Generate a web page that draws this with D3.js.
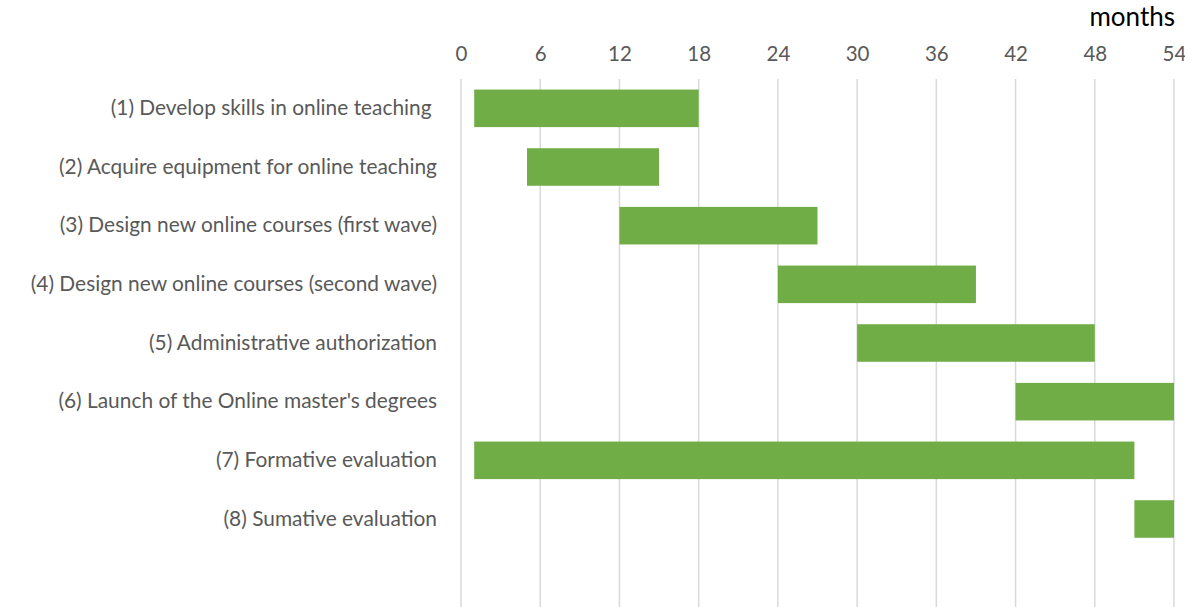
<!DOCTYPE html>
<html><head><meta charset="utf-8">
<script src="https://cdn.jsdelivr.net/npm/d3@7"></script>
<style>body{margin:0;background:#fff}</style>
</head><body>
<svg id="c" width="1185" height="607"></svg>
<script>
const tasks = ["(1) Develop skills in online teaching ", "(2) Acquire equipment for online teaching", "(3) Design new online courses (first wave)", "(4) Design new online courses (second wave)", "(5) Administrative authorization", "(6) Launch of the Online master's degrees", "(7) Formative evaluation", "(8) Sumative evaluation"];
const starts = [1, 5, 12, 24, 30, 42, 1, 51];
const ends = [18, 15, 27, 39, 48, 54, 51, 54];
const tickValues = [0, 6, 12, 18, 24, 30, 36, 42, 48, 54];
const axisTitle = "months";

const svg = d3.select("#c");
const font = "Lato, 'Open Sans', sans-serif";
const x = d3.scaleLinear().domain([0, 54]).range([461, 1174]);
const y = d3.scaleBand().domain(tasks.concat([""])).range([79, 607]).paddingInner(0.36).paddingOuter(0.18);

// gridlines
svg.append("g").selectAll("line").data(tickValues).join("line")
  .attr("x1", d => x(d)).attr("x2", d => x(d)).attr("y1", 79).attr("y2", 607)
  .attr("stroke", "#d9d9d9").attr("stroke-width", 1.5);

// bars
svg.append("g").selectAll("rect").data(tasks).join("rect")
  .attr("x", (d, i) => x(starts[i])).attr("width", (d, i) => x(ends[i]) - x(starts[i]))
  .attr("y", d => y(d)).attr("height", y.bandwidth())
  .attr("fill", "#70ad47");

// top axis
const ax = svg.append("g").attr("transform", "translate(0,67)")
  .call(d3.axisTop(x).tickValues(tickValues).tickSize(0).tickPadding(0));
ax.select(".domain").remove();
ax.selectAll("text").attr("font-family", font).attr("font-size", 20.5).attr("fill", "#595959").attr("dy", "-0.3em");

// labels
const ay = svg.append("g").attr("transform", "translate(437,0)")
  .call(d3.axisLeft(y).tickSize(0).tickPadding(0));
ay.select(".domain").remove();
ay.selectAll("text").attr("font-family", font).attr("font-size", 20.9).attr("fill", "#595959").style("white-space", "pre");

svg.append("text").attr("x", 1175).attr("y", 26).attr("text-anchor", "end")
  .attr("font-family", font).attr("font-size", 26).attr("fill", "#000").text(axisTitle);
</script>
</body></html>
